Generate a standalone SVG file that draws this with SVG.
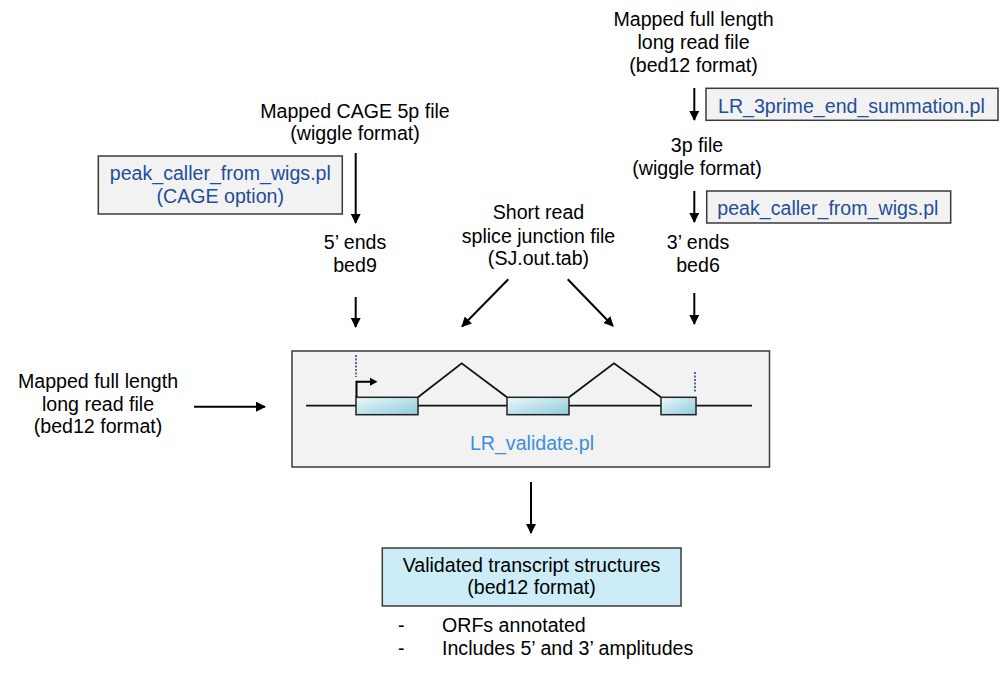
<svg xmlns="http://www.w3.org/2000/svg" width="1000" height="673" viewBox="0 0 1000 673">
<style>
text{font-family:"Liberation Sans",Arial,sans-serif;font-size:19.6px;fill:#000}
.c{text-anchor:middle}
.blue{fill:#1f4e9a}
.lblue{fill:#3b8ede}
.box{fill:#f2f2f2;stroke:#3a3a3a;stroke-width:1.5}
.arr{stroke:#000;stroke-width:2;fill:none;marker-end:url(#ah)}
.exon{fill:url(#eg);stroke:#222;stroke-width:1.5}
.ln{stroke:#111;stroke-width:1.8;fill:none}
</style>
<defs>
<marker id="ah" viewBox="0 0 10 10" refX="9" refY="5" markerWidth="5" markerHeight="5" orient="auto" markerUnits="strokeWidth">
<path d="M0,0 L10,5 L0,10 z" fill="#000"/>
</marker>
<linearGradient id="eg" x1="0" y1="0" x2="1" y2="1">
<stop offset="0" stop-color="#eef8fb"/>
<stop offset="1" stop-color="#8ccbdb"/>
</linearGradient>
</defs>
<rect width="1000" height="673" fill="#fff"/>

<g id="connectors">
<line class="arr" x1="355.7" y1="153" x2="355.7" y2="223"/>
<line class="arr" x1="355.7" y1="297" x2="355.7" y2="327"/>
<line class="arr" x1="694.3" y1="88" x2="694.3" y2="120"/>
<line class="arr" x1="694.3" y1="191" x2="694.3" y2="222"/>
<line class="arr" x1="694.3" y1="293" x2="694.3" y2="324"/>
<line class="arr" x1="508.3" y1="279.3" x2="462" y2="326.5"/>
<line class="arr" x1="567.7" y1="279.3" x2="613" y2="326"/>
<line class="arr" x1="194" y1="406.7" x2="265" y2="406.7"/>
<line class="arr" x1="531" y1="482" x2="531" y2="533"/>
</g>

<g id="cage-input">
<text class="c" x="355" y="118">Mapped CAGE 5p file</text>
<text class="c" x="355" y="140">(wiggle format)</text>
</g>
<g id="peak-caller-cage">
<rect class="box" x="98.3" y="156" width="244" height="58"/>
<text class="c blue" x="220.3" y="180">peak_caller_from_wigs.pl</text>
<text class="c blue" x="220.3" y="203">(CAGE option)</text>
</g>
<g id="five-prime-ends">
<text class="c" x="355" y="249">5’ ends</text>
<text class="c" x="355" y="272">bed9</text>
</g>

<g id="lr-input-top">
<text class="c" x="693.5" y="26">Mapped full length</text>
<text class="c" x="693.5" y="49">long read file</text>
<text class="c" x="693.5" y="71.5">(bed12 format)</text>
</g>
<g id="lr-3prime">
<rect class="box" x="706" y="88.3" width="292" height="32"/>
<text class="blue" x="718" y="113">LR_3prime_end_summation.pl</text>
</g>
<g id="three-p-file">
<text class="c" x="697" y="152">3p file</text>
<text class="c" x="697" y="175">(wiggle format)</text>
</g>
<g id="peak-caller-3p">
<rect class="box" x="706.7" y="191" width="244" height="32"/>
<text class="blue" x="717.3" y="215">peak_caller_from_wigs.pl</text>
</g>
<g id="three-prime-ends">
<text class="c" x="698" y="248.5">3’ ends</text>
<text class="c" x="698" y="271.7">bed6</text>
</g>

<g id="short-read">
<text class="c" x="538.5" y="219.3">Short read</text>
<text class="c" x="538.5" y="242.5">splice junction file</text>
<text class="c" x="538.5" y="265">(SJ.out.tab)</text>
</g>

<g id="lr-input-left">
<text class="c" x="98" y="388">Mapped full length</text>
<text class="c" x="98" y="410.5">long read file</text>
<text class="c" x="98" y="433">(bed12 format)</text>
</g>

<g id="lr-validate">
<rect class="box" x="292" y="351" width="477.5" height="116"/>
<line class="ln" x1="306" y1="405.7" x2="752" y2="405.7"/>
<polyline class="ln" points="418,397.3 461.7,363.3 507,397.3"/>
<polyline class="ln" points="569,397.3 614,363.3 661,397.3"/>
<rect class="exon" x="356" y="397.3" width="62" height="17.4"/>
<rect class="exon" x="507" y="397.3" width="62" height="17.4"/>
<rect class="exon" x="661" y="397.3" width="35" height="17.4"/>
<line x1="356" y1="355" x2="356" y2="377" stroke="#2a4a7a" stroke-width="1.6" stroke-dasharray="2,1.5"/>
<line x1="695" y1="372" x2="695" y2="393" stroke="#2a4a7a" stroke-width="1.6" stroke-dasharray="2,1.5"/>
<polyline points="356.5,397 356.5,381.7 371,381.7" fill="none" stroke="#000" stroke-width="2"/>
<path d="M370,377.7 L377.5,381.7 L370,385.7 z" fill="#000"/>
<text class="c lblue" x="532" y="450">LR_validate.pl</text>
</g>

<g id="validated-output">
<rect x="382.3" y="548" width="298.7" height="58" fill="#ccedf8" stroke="#3a3a3a" stroke-width="1.5"/>
<text class="c" x="531.5" y="572">Validated transcript structures</text>
<text class="c" x="531.5" y="594">(bed12 format)</text>
</g>
<g id="output-notes">
<text x="398" y="632">-</text>
<text x="442" y="632">ORFs annotated</text>
<text x="398" y="655">-</text>
<text x="442" y="655">Includes 5’ and 3’ amplitudes</text>
</g>
</svg>
